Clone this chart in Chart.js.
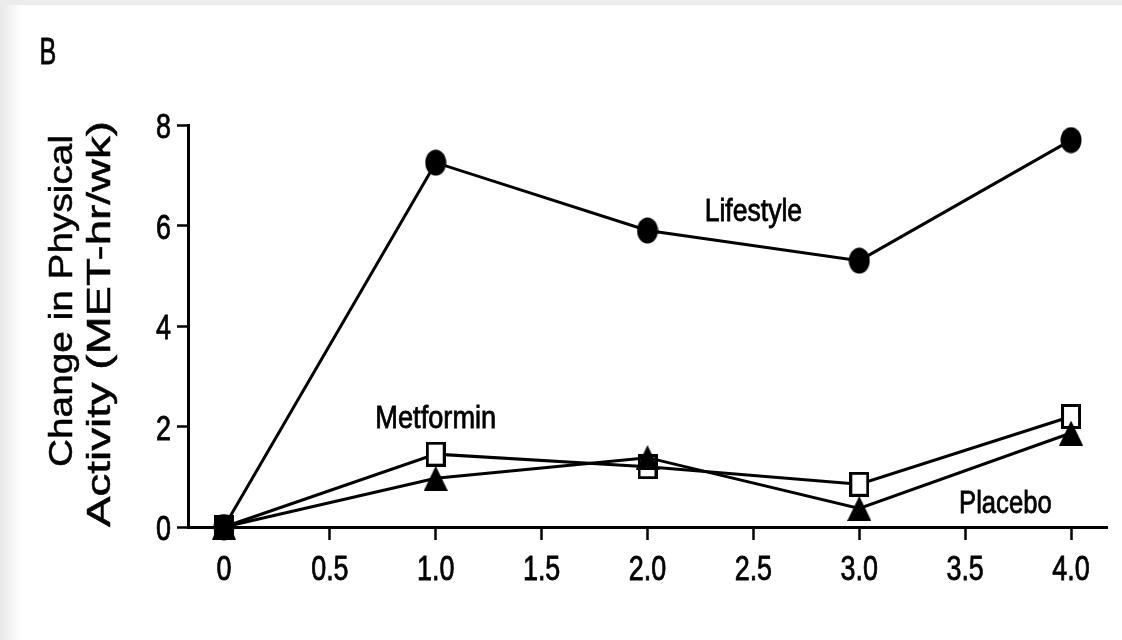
<!DOCTYPE html>
<html>
<head>
<meta charset="utf-8">
<script src="https://cdn.jsdelivr.net/npm/chart.js@4.4.0/dist/chart.umd.min.js"></script>
<style>
  html, body { margin: 0; padding: 0; background: #fff; }
  #wrap { width: 1122px; height: 640px; }
</style>
</head>
<body>
<div id="wrap"><canvas id="physChart" width="1122" height="640"></canvas></div>
<script>
// years since randomization
var years = [0, 1, 2, 3, 4];
var lifestyle = [0, 7.25, 5.9, 5.3, 7.7];
var metformin = [0, 1.45, 1.2, 0.85, 2.2];
var placebo = [0, 0.97, 1.38, 0.37, 1.87];
var xTicks = [0, 0.5, 1.0, 1.5, 2.0, 2.5, 3.0, 3.5, 4.0];
var yTicks = [0, 2, 4, 6, 8];

var sans = '"Liberation Sans", Arial, sans-serif';

function pts(vals) {
    return years.map(function (x, i) { return { x: x, y: vals[i] }; });
}

// markers are a bit taller than wide in the original
function marker(w, h, draw) {
    var cv = document.createElement('canvas');
    cv.width = w; cv.height = h;
    draw(cv.getContext('2d'), w, h);
    return cv;
}
var dotMark = marker(22, 27, function (c, w, h) {
    c.fillStyle = '#000';
    c.beginPath();
    c.ellipse(w / 2, h / 2, w / 2 - 0.5, h / 2 - 0.5, 0, 0, Math.PI * 2);
    c.fill();
});
var boxMark = marker(20, 25, function (c, w, h) {
    c.fillStyle = '#fff';
    c.fillRect(0, 0, w, h);
    c.strokeStyle = '#000';
    c.lineWidth = 3;
    c.strokeRect(1.5, 1.5, w - 3, h - 3);
});
var boxFilled = marker(20, 25, function (c, w, h) {
    c.fillStyle = '#000';
    c.fillRect(0, 0, w, h);
});
var triMark = marker(24, 25, function (c, w, h) {
    c.fillStyle = '#000';
    c.beginPath();
    c.moveTo(w / 2, 0);
    c.lineTo(w, h);
    c.lineTo(0, h);
    c.closePath();
    c.fill();
});

// narrow text: the figure uses a condensed face
function squeezed(c, text, x, y, size, sx, align) {
    c.save();
    c.translate(x, y);
    c.scale(sx, 1);
    c.font = size + 'px ' + sans;
    c.textAlign = align || 'center';
    c.textBaseline = 'alphabetic';
    c.lineWidth = 0.8;
    c.strokeStyle = '#000';
    c.fillText(text, 0, 0);
    c.strokeText(text, 0, 0);
    c.restore();
}

// text fitted to a length along the (rotated) baseline
function fitted(c, text, cx, cy, size, len) {
    c.save();
    c.font = size + 'px ' + sans;
    var w = c.measureText(text).width;
    c.translate(cx, cy);
    c.rotate(-Math.PI / 2);
    c.scale(len / w, 1);
    c.textAlign = 'center';
    c.textBaseline = 'middle';
    c.lineWidth = 0.5;
    c.strokeStyle = '#000';
    c.fillText(text, 0, 0);
    c.strokeText(text, 0, 0);
    c.restore();
}

var decorations = {
    id: 'decorations',
    beforeDraw: function (chart) {
        var c = chart.ctx;
        c.save();
        c.fillStyle = '#fff';
        c.fillRect(0, 0, chart.width, chart.height);
        c.fillStyle = '#ececec';
        c.fillRect(0, 0, chart.width, 5);
        var g = c.createLinearGradient(0, 0, 22, 0);
        g.addColorStop(0, '#e8e8e8');
        g.addColorStop(1, '#ffffff');
        c.fillStyle = g;
        c.fillRect(0, 5, 22, chart.height);
        c.restore();
    },
    afterDraw: function (chart) {
        var c = chart.ctx;
        var xs = chart.scales.x, ys = chart.scales.y;
        c.save();
        c.fillStyle = '#000';
        // tick labels
        xs.ticks.forEach(function (t) {
            var lbl = t.value === 0 ? '0' : t.value.toFixed(1);
            squeezed(c, lbl, xs.getPixelForValue(t.value), xs.top + 53, 35, 0.77, 'center');
        });
        ys.ticks.forEach(function (t) {
            squeezed(c, String(t.value), ys.right - 17, ys.getPixelForValue(t.value) + 13, 35, 0.77, 'right');
        });
        squeezed(c, 'B', 48, 64, 37, 0.68, 'center');
        squeezed(c, 'Lifestyle', xs.getPixelForValue(2.5), ys.getPixelForValue(6.08), 32, 0.83, 'center');
        squeezed(c, 'Metformin', xs.getPixelForValue(1.0), ys.getPixelForValue(1.98), 32, 0.85, 'center');
        squeezed(c, 'Placebo', xs.getPixelForValue(3.69), ys.getPixelForValue(0.28), 32, 0.8, 'center');
        // y axis title, two lines
        fitted(c, 'Change in Physical', 63, 301, 33, 332);
        fitted(c, 'Activity (MET-hr/wk)', 101, 324, 33, 406);
        c.restore();
    }
};

new Chart(document.getElementById('physChart'), {
    type: 'line',
    data: {
        datasets: [
            {
                label: 'Placebo',
                data: pts(placebo),
                borderColor: '#000',
                borderWidth: 3,
                pointStyle: triMark,
                clip: false
            },
            {
                label: 'Metformin',
                data: pts(metformin),
                borderColor: '#000',
                borderWidth: 3,
                pointStyle: [boxFilled, boxMark, boxMark, boxMark, boxMark],
                clip: false
            },
            {
                label: 'Lifestyle',
                data: pts(lifestyle),
                borderColor: '#000',
                borderWidth: 3,
                pointStyle: dotMark,
                clip: false
            }
        ]
    },
    options: {
        responsive: false,
        animation: false,
        layout: { padding: { top: 125, right: 15, left: 0, bottom: 0 } },
        plugins: {
            legend: { display: false },
            tooltip: { enabled: false }
        },
        scales: {
            x: {
                type: 'linear',
                min: -0.17,
                max: 4.17,
                afterBuildTicks: function (s) {
                    s.ticks = xTicks.map(function (v) { return { value: v }; });
                },
                afterFit: function (s) { s.height = 113; },
                border: { display: true, color: '#000', width: 3 },
                grid: { display: true, drawOnChartArea: false, color: '#000', tickLength: 13, tickWidth: 2.5 },
                ticks: { display: false }
            },
            y: {
                min: 0,
                max: 8,
                afterBuildTicks: function (s) {
                    s.ticks = yTicks.map(function (v) { return { value: v }; });
                },
                afterFit: function (s) { s.width = 188; },
                border: { display: true, color: '#000', width: 3 },
                grid: { display: true, drawOnChartArea: false, color: '#000', tickLength: 11, tickWidth: 2.5 },
                ticks: { display: false }
            }
        }
    },
    plugins: [decorations]
});
</script>
</body>
</html>
